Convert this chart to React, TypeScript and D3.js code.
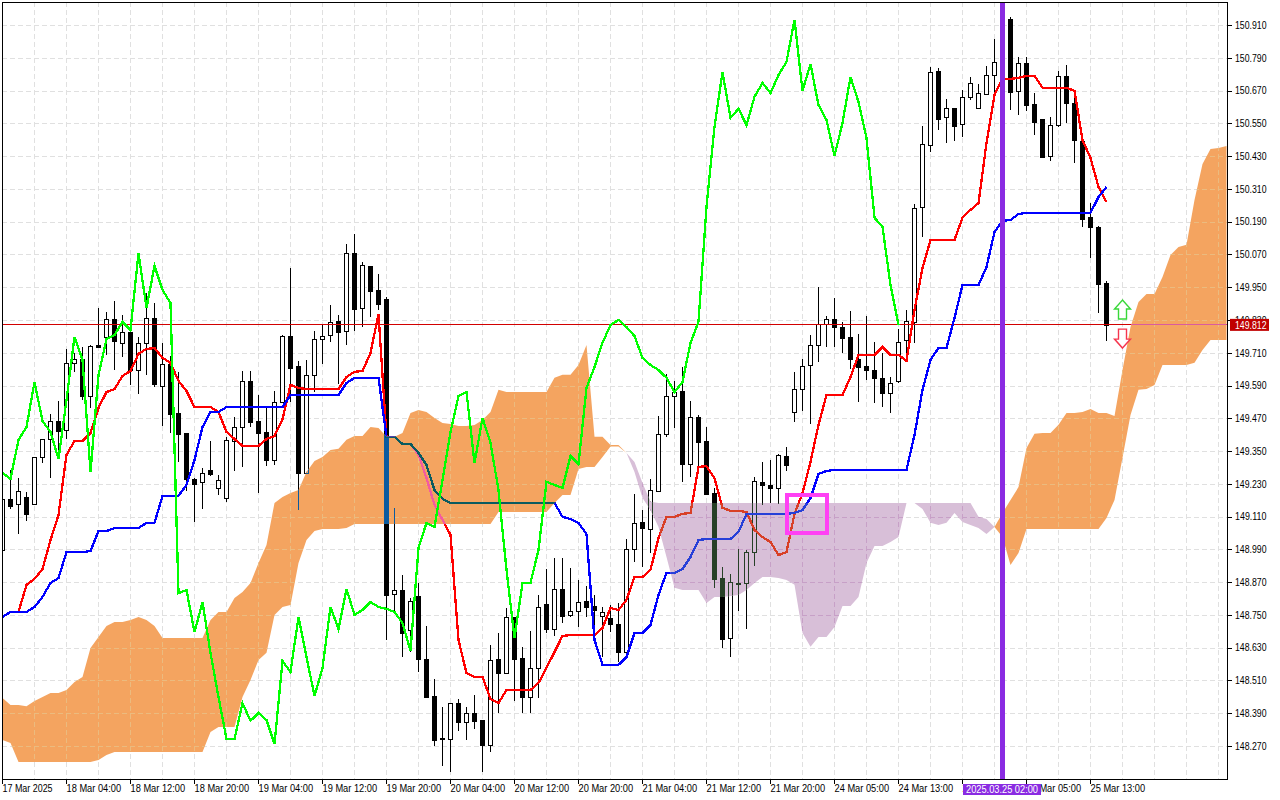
import { area, line, scaleLinear } from "d3";

const W = 1280;
const H = 800;
const PLOT = { left: 2, right: 1227, top: 2, bottom: 779 };

const opens = [
  148.988, 149.173, 149.155, 149.18, 149.155, 149.327, 149.393, 149.459, 149.426, 149.671,
  149.686, 149.553, 149.737, 149.766, 149.832, 149.747, 149.785, 149.647, 149.744, 149.836,
  149.589, 149.669, 149.488, 149.415, 149.246, 149.235, 149.279, 149.213, 149.177, 149.388,
  149.437, 149.605, 149.459, 149.418, 149.318, 149.531, 149.77, 149.66, 149.271, 149.627,
  149.759, 149.774, 149.825, 149.788, 150.074, 149.875, 150.026, 149.938, 149.905, 148.826,
  148.84, 148.695, 148.819, 148.589, 148.453, 148.298, 148.295, 148.426, 148.359, 148.39,
  148.365, 148.273, 148.589, 148.539, 148.741, 148.591, 148.451, 148.555, 148.789, 148.697,
  148.845, 148.749, 148.763, 148.8, 148.783, 148.745, 148.739, 148.717, 148.616, 148.99,
  149.09, 149.066, 149.205, 149.412, 149.551, 149.57, 149.304, 149.474, 149.386, 149.195,
  148.884, 148.664, 148.867, 148.868, 148.979, 149.236, 149.225, 149.213, 149.331, 149.492,
  149.576, 149.664, 149.737, 149.816, 149.832, 149.805, 149.768, 149.688, 149.66, 149.646,
  149.617, 149.564, 149.605, 149.755, 149.824, 150.242, 150.469, 150.74, 150.572, 150.605,
  150.546, 150.645, 150.605, 150.656, 150.726, 150.773, 150.932, 150.667, 150.77, 150.62,
  150.565, 150.429, 150.545, 150.722, 150.626, 150.486, 150.206, 150.169, 149.964,
];
const highs = [
  149.19, 149.28, 149.25, 149.2, 149.329, 149.394, 149.484, 149.532, 149.722, 149.708,
  149.73, 149.738, 149.873, 149.858, 149.899, 149.848, 149.786, 149.769, 149.93, 149.891,
  149.744, 149.698, 149.641, 149.415, 149.25, 149.287, 149.387, 149.262, 149.4, 149.475,
  149.643, 149.643, 149.555, 149.506, 149.57, 149.774, 150.019, 149.68, 149.683, 149.791,
  149.811, 149.885, 149.848, 150.108, 150.144, 150.043, 150.028, 149.997, 149.913, 149.141,
  148.896, 148.811, 148.866, 148.71, 148.514, 148.412, 148.426, 148.441, 148.414, 148.457,
  148.365, 148.64, 148.683, 148.774, 148.744, 148.632, 148.691, 148.822, 148.918, 148.957,
  148.957, 148.921, 148.878, 148.856, 148.823, 148.78, 148.787, 148.793, 149.027, 149.193,
  149.134, 149.247, 149.479, 149.631, 149.607, 149.657, 149.534, 149.481, 149.437, 149.214,
  148.927, 148.9, 148.992, 148.986, 149.255, 149.311, 149.318, 149.34, 149.364, 149.638,
  149.687, 149.775, 149.95, 149.845, 149.909, 149.821, 149.862, 149.777, 149.845, 149.749,
  149.71, 149.62, 149.796, 149.865, 150.253, 150.54, 150.757, 150.751, 150.638, 150.605,
  150.672, 150.718, 150.694, 150.76, 150.859, 150.945, 150.938, 150.794, 150.792, 150.66,
  150.566, 150.572, 150.742, 150.764, 150.672, 150.488, 150.257, 150.174, 149.973,
];
const lows = [
  148.96, 149.136, 149.046, 149.095, 149.155, 149.307, 149.252, 149.354, 149.394, 149.639,
  149.537, 149.509, 149.726, 149.702, 149.647, 149.696, 149.592, 149.559, 149.628, 149.586,
  149.442, 149.415, 149.311, 149.205, 149.091, 149.139, 149.258, 149.189, 149.164, 149.278,
  149.293, 149.437, 149.197, 149.295, 149.299, 149.531, 149.531, 149.134, 149.271, 149.567,
  149.669, 149.75, 149.595, 149.738, 149.791, 149.805, 149.842, 149.866, 148.658, 148.762,
  148.597, 148.616, 148.542, 148.451, 148.27, 148.195, 148.173, 148.326, 148.292, 148.332,
  148.173, 148.249, 148.39, 148.536, 148.433, 148.392, 148.392, 148.444, 148.685, 148.674,
  148.719, 148.744, 148.707, 148.744, 148.707, 148.597, 148.689, 148.579, 148.597, 148.945,
  148.927, 148.978, 149.202, 149.403, 149.434, 149.238, 149.254, 149.269, 149.191, 148.848,
  148.63, 148.597, 148.765, 148.699, 148.929, 149.153, 149.159, 149.156, 149.277, 149.458,
  149.498, 149.45, 149.677, 149.732, 149.732, 149.708, 149.652, 149.531, 149.61, 149.525,
  149.513, 149.491, 149.6, 149.702, 149.747, 150.135, 150.446, 150.526, 150.479, 150.486,
  150.501, 150.635, 150.605, 150.656, 150.666, 150.703, 150.599, 150.58, 150.596, 150.507,
  150.422, 150.413, 150.538, 150.55, 150.403, 150.172, 150.058, 149.857, 149.754,
];
const closes = [
  149.173, 149.15, 149.202, 149.121, 149.327, 149.393, 149.459, 149.425, 149.671, 149.686,
  149.553, 149.733, 149.73, 149.832, 149.754, 149.785, 149.647, 149.744, 149.836, 149.595,
  149.669, 149.487, 149.414, 149.249, 149.23, 149.268, 149.266, 149.243, 149.389, 149.437,
  149.605, 149.457, 149.417, 149.318, 149.531, 149.77, 149.655, 149.271, 149.627, 149.759,
  149.772, 149.824, 149.787, 150.074, 149.871, 150.03, 149.937, 149.89, 148.823, 148.84,
  148.685, 148.8, 148.59, 148.451, 148.293, 148.295, 148.426, 148.359, 148.39, 148.363,
  148.275, 148.584, 148.539, 148.741, 148.589, 148.451, 148.555, 148.778, 148.697, 148.844,
  148.747, 148.766, 148.799, 148.78, 148.769, 148.76, 148.716, 148.616, 148.99, 149.086,
  149.07, 149.206, 149.412, 149.551, 149.568, 149.304, 149.474, 149.382, 149.193, 148.881,
  148.663, 148.87, 148.863, 148.979, 149.239, 149.227, 149.213, 149.336, 149.299, 149.576,
  149.66, 149.737, 149.814, 149.832, 149.803, 149.765, 149.688, 149.659, 149.646, 149.619,
  149.564, 149.6, 149.748, 149.825, 150.239, 150.473, 150.737, 150.567, 150.605, 150.541,
  150.645, 150.696, 150.66, 150.726, 150.773, 150.929, 150.666, 150.77, 150.618, 150.556,
  150.428, 150.545, 150.722, 150.626, 150.488, 150.201, 150.172, 149.963, 149.812,
];
const tenkan = [
  148.742, 148.761, 148.761, 148.86, 148.882, 148.918, 149.024, 149.116, 149.336, 149.387,
  149.387, 149.416, 149.508, 149.566, 149.577, 149.625, 149.643, 149.706, 149.724, 149.727,
  149.691, 149.673, 149.607, 149.57, 149.511, 149.511, 149.511, 149.493, 149.42, 149.394,
  149.369, 149.369, 149.369, 149.394, 149.405, 149.467, 149.592, 149.581, 149.577, 149.577,
  149.577, 149.577, 149.577, 149.621, 149.64, 149.643, 149.709, 149.852, 149.402, 149.402,
  149.376, 149.376, 149.336, 149.251, 149.153, 149.098, 149.043, 148.658, 148.537, 148.523,
  148.523, 148.442, 148.427, 148.475, 148.475, 148.475, 148.475, 148.501, 148.556, 148.614,
  148.673, 148.676, 148.676, 148.676, 148.676, 148.702, 148.775, 148.768, 148.805, 148.889,
  148.889, 148.915, 149.032, 149.109, 149.109, 149.12, 149.123, 149.292, 149.295, 149.251,
  149.142, 149.131, 149.131, 149.127, 149.061, 149.035, 149.017, 148.969, 148.98, 149.12,
  149.196, 149.31, 149.446, 149.555, 149.555, 149.555, 149.621, 149.702, 149.702, 149.702,
  149.731, 149.702, 149.702, 149.68, 149.867, 150.02, 150.123, 150.123, 150.123, 150.123,
  150.204, 150.233, 150.258, 150.478, 150.654, 150.713, 150.713, 150.716, 150.724, 150.724,
  150.68, 150.68, 150.68, 150.68, 150.669, 150.489, 150.423, 150.317, 150.262,
];
const kijun = [
  148.742, 148.761, 148.761, 148.761, 148.779, 148.816, 148.867, 148.885, 148.98, 148.98,
  148.98, 148.984, 149.057, 149.057, 149.068, 149.068, 149.068, 149.068, 149.087, 149.087,
  149.186, 149.186, 149.186, 149.226, 149.317, 149.438, 149.493, 149.493, 149.511, 149.511,
  149.511, 149.511, 149.511, 149.511, 149.511, 149.511, 149.555, 149.555, 149.555, 149.555,
  149.555, 149.555, 149.555, 149.599, 149.618, 149.618, 149.618, 149.618, 149.402, 149.402,
  149.376, 149.376, 149.343, 149.299, 149.207, 149.175, 149.16, 149.16, 149.16, 149.16,
  149.16, 149.16, 149.16, 149.16, 149.16, 149.16, 149.16, 149.16, 149.16, 149.16,
  149.109, 149.101, 149.087, 149.046, 148.658, 148.567, 148.567, 148.567, 148.596, 148.684,
  148.684, 148.713, 148.823, 148.904, 148.904, 148.918, 148.962, 149.024, 149.028, 149.028,
  149.028, 149.028, 149.054, 149.12, 149.12, 149.12, 149.12, 149.12, 149.12, 149.123,
  149.134, 149.178, 149.266, 149.277, 149.281, 149.281, 149.281, 149.281, 149.281, 149.281,
  149.281, 149.281, 149.281, 149.281, 149.409, 149.574, 149.684, 149.727, 149.727, 149.837,
  149.958, 149.958, 149.958, 150.024, 150.152, 150.193, 150.196, 150.218, 150.222, 150.222,
  150.222, 150.222, 150.222, 150.222, 150.222, 150.222, 150.222, 150.28, 150.317,
];
const chikou = [
  149.27, 149.248, 149.391, 149.438, 149.603, 149.46, 149.42, 149.321, 149.537, 149.768,
  149.684, 149.273, 149.629, 149.76, 149.775, 149.823, 149.793, 150.075, 149.874, 150.028,
  149.94, 149.892, 148.83, 148.841, 148.687, 148.797, 148.611, 148.449, 148.296, 148.296,
  148.427, 148.362, 148.391, 148.365, 148.277, 148.581, 148.541, 148.742, 148.596, 148.453,
  148.556, 148.779, 148.698, 148.845, 148.75, 148.768, 148.797, 148.779, 148.772, 148.761,
  148.72, 148.618, 148.995, 149.087, 149.072, 149.244, 149.42, 149.552, 149.566, 149.306,
  149.471, 149.38, 149.207, 148.915, 148.665, 148.867, 148.867, 148.988, 149.237, 149.226,
  149.215, 149.332, 149.303, 149.581, 149.658, 149.746, 149.812, 149.83, 149.804, 149.771,
  149.691, 149.665, 149.647, 149.618, 149.566, 149.603, 149.746, 149.823, 150.244, 150.537,
  150.738, 150.57, 150.603, 150.544, 150.647, 150.698, 150.661, 150.727, 150.775, 150.929,
  150.669, 150.767, 150.617, 150.562, 150.431, 150.551, 150.72, 150.628, 150.496, 150.204,
  150.171, 149.958, 149.812,
];
const spanA = [
  148.446, 148.42, 148.42, 148.416, 148.435, 148.449, 148.464, 148.464, 148.475, 148.504,
  148.523, 148.629, 148.669, 148.709, 148.724, 148.724, 148.731, 148.742, 148.731, 148.709,
  148.665, 148.665, 148.665, 148.665, 148.665, 148.665, 148.731, 148.761, 148.761, 148.812,
  148.834, 148.867, 148.94, 149.006, 149.16, 149.182, 149.196, 149.207, 149.273, 149.314,
  149.328, 149.354, 149.358, 149.391, 149.405, 149.405, 149.438, 149.434, 149.402, 149.402,
  149.416, 149.489, 149.5, 149.493, 149.471, 149.453, 149.449, 149.442, 149.442, 149.445,
  149.464, 149.493, 149.574, 149.566, 149.566, 149.566, 149.566, 149.566, 149.566, 149.618,
  149.629, 149.629, 149.665, 149.738, 149.402, 149.402, 149.372, 149.372, 149.343, 149.273,
  149.178, 149.134, 149.072, 148.962, 148.849, 148.841, 148.841, 148.841, 148.794, 148.816,
  148.816, 148.819, 148.823, 148.841, 148.867, 148.889, 148.889, 148.885, 148.878, 148.86,
  148.684, 148.633, 148.669, 148.669, 148.706, 148.783, 148.783, 148.816, 148.94, 149.002,
  149.002, 149.017, 149.035, 149.16, 149.16, 149.138, 149.087, 149.079, 149.087, 149.123,
  149.09, 149.079, 149.068, 149.046, 149.072, 149.123, 149.171, 149.218, 149.361, 149.413,
  149.416, 149.416, 149.446, 149.489, 149.489, 149.493, 149.504, 149.489, 149.489, 149.478,
  149.647, 149.804, 149.896, 149.925, 149.925, 149.987, 150.068, 150.097, 150.105, 150.269,
  150.401, 150.456, 150.46, 150.467,
];
const spanB = [
  148.292, 148.281, 148.211, 148.211, 148.211, 148.211, 148.211, 148.211, 148.211, 148.211,
  148.211, 148.211, 148.219, 148.237, 148.248, 148.248, 148.248, 148.248, 148.248, 148.248,
  148.248, 148.248, 148.248, 148.248, 148.248, 148.248, 148.321, 148.34, 148.34, 148.34,
  148.449, 148.512, 148.585, 148.611, 148.75, 148.779, 148.786, 148.94, 149.024, 149.057,
  149.065, 149.065, 149.065, 149.068, 149.083, 149.083, 149.083, 149.083, 149.083, 149.083,
  149.083, 149.083, 149.083, 149.083, 149.083, 149.083, 149.083, 149.083, 149.083, 149.083,
  149.083, 149.083, 149.127, 149.127, 149.127, 149.127, 149.127, 149.127, 149.127, 149.16,
  149.189, 149.189, 149.284, 149.292, 149.292, 149.328, 149.367, 149.367, 149.343, 149.31,
  149.233, 149.164, 149.16, 149.16, 149.16, 149.16, 149.16, 149.16, 149.16, 149.16,
  149.16, 149.16, 149.16, 149.16, 149.16, 149.16, 149.16, 149.16, 149.16, 149.16,
  149.16, 149.16, 149.16, 149.16, 149.16, 149.16, 149.16, 149.16, 149.16, 149.16,
  149.16, 149.16, 149.16, 149.16, 149.16, 149.16, 149.16, 149.16, 149.16, 149.16,
  149.16, 149.16, 149.109, 149.101, 149.072, 149.035, 148.933, 148.977, 149.065, 149.065,
  149.065, 149.065, 149.065, 149.065, 149.065, 149.065, 149.065, 149.065, 149.105, 149.171,
  149.325, 149.482, 149.574, 149.577, 149.592, 149.665, 149.665, 149.665, 149.665, 149.673,
  149.72, 149.757, 149.757, 149.757,
];

const priceTicks = [
  150.91, 150.79, 150.67, 150.55, 150.43, 150.31, 150.19, 150.07, 149.95, 149.83, 149.71, 149.59,
  149.47, 149.35, 149.23, 149.11, 148.99, 148.87, 148.75, 148.63, 148.51, 148.39, 148.27,
];
const timeLabels = [
  "17 Mar 2025", "18 Mar 04:00", "18 Mar 12:00", "18 Mar 20:00", "19 Mar 04:00", "19 Mar 12:00",
  "19 Mar 20:00", "20 Mar 04:00", "20 Mar 12:00", "20 Mar 20:00", "21 Mar 04:00", "21 Mar 12:00",
  "21 Mar 20:00", "24 Mar 05:00", "24 Mar 13:00", "24 Mar 21:00", "25 Mar 05:00", "25 Mar 13:00",
];
const lastPrice = 149.812;
const markerBar = 125;
const markerLabel = "2025.03.25 02:00";
const boxBars = [98, 103];
const boxPrices = [149.189, 149.05];
const arrowBar = 140;
const upArrowTip = 149.903;
const downArrowTip = 149.727;

const LAST_BAR = spanA.length - 1;
const x = scaleLinear().domain([0, LAST_BAR]).range([2.5, 2.5 + 8 * LAST_BAR]);
const y = scaleLinear().domain([148.27, 150.91]).range([746, 25]);
const px = (v: number) => Math.round(v) + 0.5;

const barIdx = opens.map((_, i) => i);
const gridXBars = Array.from({ length: 39 }, (_, k) => k * 4);

const pathOf = (vals: number[]) =>
  line<number>()
    .x((_, i) => x(i))
    .y((v) => y(v))(vals) ?? "";
const tenkanPath = pathOf(tenkan);
const kijunPath = pathOf(kijun);
const chikouPath = pathOf(chikou);

// kumo: sandy where A is above B, thistle where B is above A
const orangePath =
  area<number>()
    .x((i) => x(i))
    .y0((i) => y(spanB[i]))
    .y1((i) => y(Math.max(spanA[i], spanB[i])))(spanA.map((_, i) => i)) ?? "";
const purplePath =
  area<number>()
    .x((i) => x(i))
    .y0((i) => y(spanA[i]))
    .y1((i) => y(Math.max(spanA[i], spanB[i])))(spanA.map((_, i) => i)) ?? "";

// MT4 paints the cloud with XOR, so everything under it changes colour
const xor = (hex: string, mask: string) =>
  "#" + (parseInt(hex.slice(1), 16) ^ parseInt(mask.slice(1), 16)).toString(16).padStart(6, "0");

const INK = "#000000";
const PAPER = "#ffffff";
const RED = "#ff0000";
const BLUE = "#0000ff";
const PRICE_LINE = "#d20000";
const GRID = "#e0e0e0";
const LINE_W = 2.3;

function Grid({ stroke }: { stroke: string }) {
  return (
    <g stroke={stroke} strokeDasharray="5 3" shapeRendering="crispEdges">
      {priceTicks.map((t) => (
        <line key={t} x1={PLOT.left} x2={PLOT.right} y1={px(y(t))} y2={px(y(t))} />
      ))}
      {gridXBars.map((b) => (
        <line key={b} x1={x(b)} x2={x(b)} y1={PLOT.top} y2={PLOT.bottom} />
      ))}
    </g>
  );
}

function Marks({ mask }: { mask: string }) {
  const ink = xor(INK, mask);
  const paper = xor(PAPER, mask);
  return (
    <g shapeRendering="crispEdges">
      {barIdx.map((i) => {
        const up = closes[i] >= opens[i];
        const top = px(y(Math.max(opens[i], closes[i])));
        const bot = px(y(Math.min(opens[i], closes[i])));
        return (
          <g key={i}>
            <line x1={x(i)} x2={x(i)} y1={y(highs[i])} y2={y(lows[i])} stroke={ink} />
            <rect x={x(i) - 2} y={top} width={4} height={Math.max(bot - top, 1)} fill={up ? paper : ink} stroke={ink} />
          </g>
        );
      })}
      <line x1={PLOT.left} x2={PLOT.right} y1={px(y(lastPrice)) - 1} y2={px(y(lastPrice)) - 1} stroke={xor(PRICE_LINE, mask)} />
      <path d={tenkanPath} fill="none" stroke={xor(RED, mask)} strokeWidth={LINE_W} />
      <path d={kijunPath} fill="none" stroke={xor(BLUE, mask)} strokeWidth={LINE_W} />
    </g>
  );
}

const upArrow = (cx: number, t: number) =>
  `M${cx},${t} L${cx + 8},${t + 9} L${cx + 4},${t + 9} L${cx + 4},${t + 19} L${cx - 4},${t + 19} L${cx - 4},${t + 9} L${cx - 8},${t + 9} Z`;
const downArrow = (cx: number, t: number) =>
  `M${cx},${t} L${cx + 8},${t - 9} L${cx + 4},${t - 9} L${cx + 4},${t - 19} L${cx - 4},${t - 19} L${cx - 4},${t - 9} L${cx - 8},${t - 9} Z`;

export default function App() {
  const font = '"Liberation Sans", sans-serif';
  return (
    <svg
      width={W}
      height={H}
      viewBox={`0 0 ${W} ${H}`}
      style={{ position: "fixed", left: 0, top: 0, display: "block", background: "#fff" }}
      fontFamily={font}
      fontSize={10}
    >
      <defs>
        <clipPath id="plot">
          <rect x={PLOT.left} y={PLOT.top} width={PLOT.right - PLOT.left} height={PLOT.bottom - PLOT.top} />
        </clipPath>
        <clipPath id="kumoA">
          <path d={orangePath} />
        </clipPath>
        <clipPath id="kumoB">
          <path d={purplePath} />
        </clipPath>
      </defs>
      <rect width={W} height={H} fill="#fff" />

      <g clipPath="url(#plot)">
        <Grid stroke={GRID} />
        <Marks mask="#000000" />
        <path d={orangePath} fill="#f4a460" />
        <path d={purplePath} fill="#d8bfd8" />
        <g clipPath="url(#kumoA)">
          <Grid stroke={xor(GRID, "#0b5b9f")} />
          <Marks mask="#0b5b9f" />
        </g>
        <g clipPath="url(#kumoB)">
          <Grid stroke={xor(GRID, "#274027")} />
          <Marks mask="#274027" />
        </g>
        <path d={chikouPath} fill="none" stroke="#00ff00" strokeWidth={LINE_W} shapeRendering="crispEdges" />
        <rect
          x={x(boxBars[0])}
          y={y(boxPrices[0])}
          width={x(boxBars[1]) - x(boxBars[0])}
          height={y(boxPrices[1]) - y(boxPrices[0])}
          fill="none"
          stroke="#ff40f4"
          strokeWidth={4}
          shapeRendering="crispEdges"
        />
        <line
          x1={x(markerBar)}
          x2={x(markerBar)}
          y1={PLOT.top}
          y2={PLOT.bottom}
          stroke="#8a2be2"
          strokeWidth={5}
          shapeRendering="crispEdges"
        />
        <path d={upArrow(x(arrowBar), y(upArrowTip))} fill="#fff" stroke="#38d838" strokeWidth={1.4} />
        <path d={downArrow(x(arrowBar), y(downArrowTip))} fill="#fff" stroke="#f5364e" strokeWidth={1.4} />
      </g>

      {/* frame */}
      <rect
        x={PLOT.left + 0.5}
        y={PLOT.top + 0.5}
        width={PLOT.right - PLOT.left}
        height={PLOT.bottom - PLOT.top}
        fill="none"
        stroke="#000"
        shapeRendering="crispEdges"
      />

      {/* price axis */}
      {priceTicks.map((t) => (
        <g key={t}>
          <line x1={PLOT.right} x2={PLOT.right + 5} y1={px(y(t))} y2={px(y(t))} stroke="#000" shapeRendering="crispEdges" />
          <text x={PLOT.right + 8} y={y(t) + 3.8} fill="#000" textLength={31.5} lengthAdjust="spacingAndGlyphs">
            {t.toFixed(3)}
          </text>
        </g>
      ))}
      <rect x={PLOT.right + 3} y={y(lastPrice) - 6} width={39} height={12} fill="#c00000" />
      <text x={PLOT.right + 8} y={y(lastPrice) + 3.8} fill="#fff" textLength={31.5} lengthAdjust="spacingAndGlyphs">
        {lastPrice.toFixed(3)}
      </text>

      {/* time axis */}
      {timeLabels.map((label, k) => (
        <g key={label}>
          <line
            x1={x(k * 8)}
            x2={x(k * 8)}
            y1={PLOT.bottom}
            y2={PLOT.bottom + 5}
            stroke="#000"
            shapeRendering="crispEdges"
          />
          <text x={x(k * 8)} y={792} fill="#000" textLength={label.length * 4.55} lengthAdjust="spacingAndGlyphs">
            {label}
          </text>
        </g>
      ))}
      <rect x={x(markerBar) - 39.5} y={784} width={78} height={11} fill="#8a2be2" />
      <text
        x={x(markerBar) - 36.5}
        y={792.5}
        fill="#fff"
        textLength={72}
        lengthAdjust="spacingAndGlyphs"
      >
        {markerLabel}
      </text>
    </svg>
  );
}
